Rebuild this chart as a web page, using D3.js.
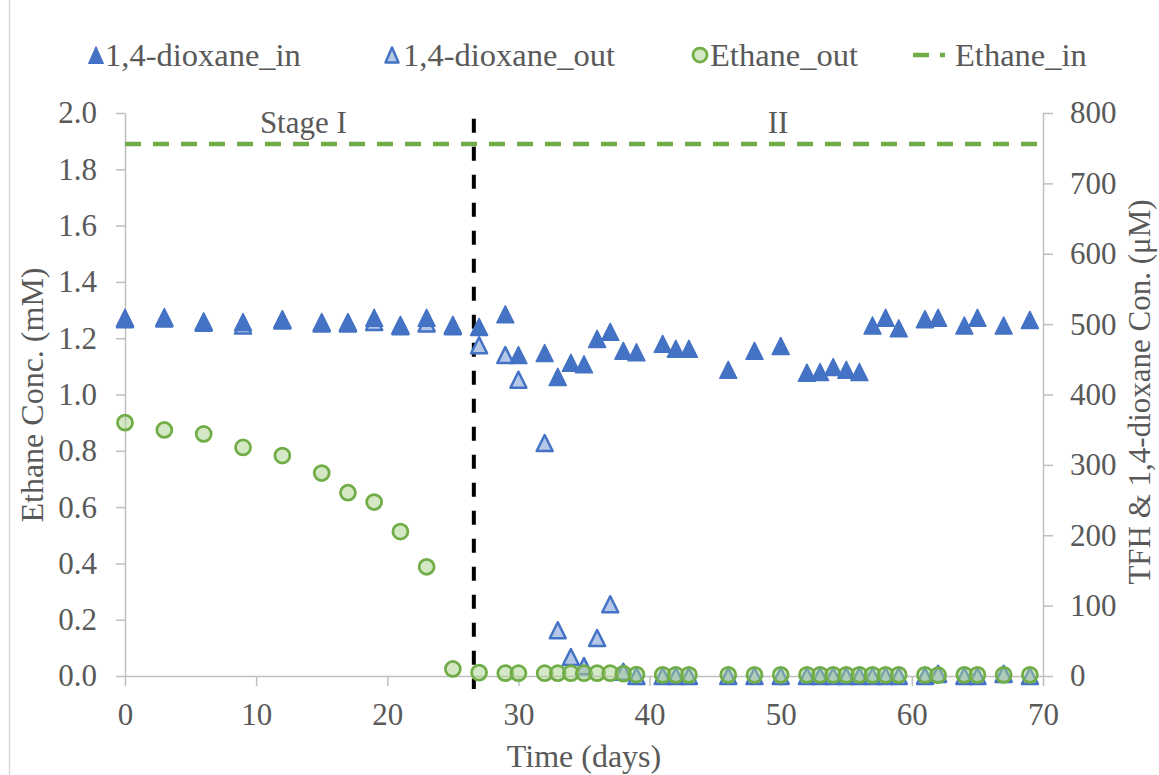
<!DOCTYPE html>
<html>
<head>
<meta charset="utf-8">
<script src="https://cdn.jsdelivr.net/npm/d3@7"></script>
<style>
  body { margin: 0; background: #fff; }
  svg { display: block; }
</style>
</head>
<body>
<div id="chart"></div>
<script>
// time points (days)
const days = [0, 3, 6, 9, 12, 15, 17, 19, 21, 23, 25, 27, 29, 30, 32, 33, 34, 35, 36, 37, 38, 39,
  41, 42, 43, 46, 48, 50, 52, 53, 54, 55, 56, 57, 58, 59, 61, 62, 64, 65, 67, 69];
// 1,4-dioxane influent (uM, right axis)
const dioxaneIn = [509, 510, 504, 503, 507, 503, 503, 509, 499, 509, 499, 496, 514, 456, 459, 425, 445, 443, 479, 489, 462, 460,
  472, 465, 465, 435, 462, 469, 431, 432, 439, 435, 432, 498, 509, 494, 507, 509, 498, 509, 498, 506];
// 1,4-dioxane effluent (uM, right axis)
const dioxaneOut = [507, 508, 502, 498, 505, 501, 501, 503, 497, 501, 497, 470, 456, 421, 331, 65, 27, 14, 54, 102, 6, 0,
  0, 0, 0, 0, 0, 0, 0, 0, 0, 0, 0, 0, 0, 0, 0, 3, 0, 0, 3, 0];
// ethane effluent (mM, left axis)
const ethaneOut = [0.90, 0.874, 0.86, 0.812, 0.783, 0.721, 0.651, 0.618, 0.513, 0.388, 0.025, 0.012, 0.01, 0.01, 0.01, 0.01, 0.01, 0.01, 0.01, 0.01, 0.008, 0.005,
  0.004, 0.004, 0.004, 0.004, 0.004, 0.004, 0.004, 0.004, 0.004, 0.004, 0.004, 0.004, 0.004, 0.004, 0.004, 0.003, 0.004, 0.004, 0.004, 0.004];
const ethaneIn = 1.89;        // mM, constant feed
const stageBoundary = 26.6;   // day
const stages = [{ label: "Stage I", day: 13.6 }, { label: "II", day: 49.8 }];

const xTicks = [0, 10, 20, 30, 40, 50, 60, 70];
const leftTicks = [0, 0.2, 0.4, 0.6, 0.8, 1.0, 1.2, 1.4, 1.6, 1.8, 2.0];
const rightTicks = [0, 100, 200, 300, 400, 500, 600, 700, 800];

const W = 1159, H = 775;
const m = { left: 125, right: 116, top: 113, bottom: 99 };
const blue = "#4472C4", lightBlue = "#B4C7E7", green = "#70AD47", textCol = "#595959", axisCol = "#BFBFBF";
const FONT = '"Liberation Serif", "Times New Roman", serif';

const svg = d3.select("#chart").append("svg").attr("width", W).attr("height", H);

const x = d3.scaleLinear().domain([0, 70]).range([m.left, W - m.right]);
const yL = d3.scaleLinear().domain([0, 2]).range([H - m.bottom, m.top]);
const yR = d3.scaleLinear().domain([0, 800]).range([H - m.bottom, m.top]);

function label(sel, size) {
  return sel.attr("fill", textCol).style("font-family", FONT).style("font-size", (size || 31) + "px");
}

// chart frame edge
svg.append("line").attr("x1", 9.5).attr("x2", 9.5).attr("y1", 0).attr("y2", H).attr("stroke", "#D9D9D9").attr("stroke-width", 1.5);

function styleAxis(g) {
  g.attr("font-family", null).attr("font-size", null);
  g.select(".domain").attr("stroke", axisCol).attr("stroke-width", 1.5);
  g.selectAll(".tick line").attr("stroke", axisCol).attr("stroke-width", 1.5);
  g.selectAll(".tick text").call(label, 31);
}

svg.append("g").attr("transform", `translate(0,${H - m.bottom})`)
  .call(d3.axisBottom(x).tickValues(xTicks).tickSize(10).tickSizeOuter(0).tickPadding(17))
  .call(styleAxis);
svg.append("g").attr("transform", `translate(${m.left},0)`)
  .call(d3.axisLeft(yL).tickValues(leftTicks).tickFormat(d3.format(".1f")).tickSize(9).tickSizeOuter(0).tickPadding(19))
  .call(styleAxis);
svg.append("g").attr("transform", `translate(${W - m.right},0)`)
  .call(d3.axisRight(yR).tickValues(rightTicks).tickSize(10).tickSizeOuter(0).tickPadding(17))
  .call(styleAxis);

// axis titles
svg.append("text").attr("x", (m.left + W - m.right) / 2).attr("y", 767).attr("text-anchor", "middle")
  .call(label, 32).text("Time (days)");
svg.append("text").attr("transform", `translate(43,395) rotate(-90)`).attr("text-anchor", "middle")
  .call(label, 32).text("Ethane Conc. (mM)");
svg.append("text").attr("transform", `translate(1150,392) rotate(-90)`).attr("text-anchor", "middle")
  .call(label, 31).text("TFH & 1,4-dioxane Con. (\u03bcM)");

// ethane influent dashed line
svg.append("line").attr("x1", x(0)).attr("x2", x(70) - 6).attr("y1", yL(ethaneIn)).attr("y2", yL(ethaneIn))
  .attr("stroke", green).attr("stroke-width", 4.5).attr("stroke-dasharray", "16,12");

// stage boundary
svg.append("line").attr("x1", x(stageBoundary)).attr("x2", x(stageBoundary))
  .attr("y1", yL(1.98)).attr("y2", yL(0) + 13)
  .attr("stroke", "#000").attr("stroke-width", 4).attr("stroke-dasharray", "14,14");

svg.selectAll("text.stage").data(stages).join("text").attr("class", "stage")
  .attr("x", d => x(d.day)).attr("y", yL(1.93)).attr("text-anchor", "middle")
  .call(label, 31).text(d => d.label);

const triW = 18, triH = 18;
const tri = (w, h) => `M0,${-h / 2}L${w / 2},${h / 2}L${-w / 2},${h / 2}Z`;

const rows = days.map((d, i) => ({ day: d, dIn: dioxaneIn[i], dOut: dioxaneOut[i], eOut: ethaneOut[i] }));

// dioxane out (behind)
svg.append("g").selectAll("path").data(rows).join("path")
  .attr("d", tri(triW - 2, triH - 2))
  .attr("transform", d => `translate(${x(d.day)},${yR(d.dOut)})`)
  .attr("fill", lightBlue).attr("stroke", blue).attr("stroke-width", 2.5).attr("stroke-linejoin", "round");

// dioxane in
svg.append("g").selectAll("path").data(rows).join("path")
  .attr("d", tri(triW - 1, triH - 1))
  .attr("transform", d => `translate(${x(d.day)},${yR(d.dIn)})`)
  .attr("fill", blue).attr("stroke", blue).attr("stroke-width", 1.5).attr("stroke-linejoin", "round");

// ethane out
svg.append("g").selectAll("circle").data(rows).join("circle")
  .attr("cx", d => x(d.day)).attr("cy", d => yL(d.eOut))
  .attr("r", 7.5).attr("fill", "#A9D18E").attr("fill-opacity", 0.5)
  .attr("stroke", green).attr("stroke-width", 2.75);

// legend
const ly = 55, lfs = 32.5;
const leg = svg.append("g");
leg.append("path").attr("d", tri(15, 17)).attr("transform", `translate(96,${ly})`).attr("fill", blue).attr("stroke", blue).attr("stroke-width", 1);
leg.append("text").attr("x", 105).attr("y", ly).attr("dy", "0.35em").call(label, lfs).text("1,4-dioxane_in");
leg.append("path").attr("d", tri(13, 15)).attr("transform", `translate(392,${ly})`).attr("fill", lightBlue).attr("stroke", blue).attr("stroke-width", 2.5).attr("stroke-linejoin", "round");
leg.append("text").attr("x", 403).attr("y", ly).attr("dy", "0.35em").call(label, lfs).text("1,4-dioxane_out");
leg.append("circle").attr("cx", 700).attr("cy", ly).attr("r", 7).attr("fill", "#A9D18E").attr("fill-opacity", 0.5).attr("stroke", green).attr("stroke-width", 2.75);
leg.append("text").attr("x", 710).attr("y", ly).attr("dy", "0.35em").call(label, lfs).text("Ethane_out");
leg.append("line").attr("x1", 913).attr("x2", 945).attr("y1", ly).attr("y2", ly).attr("stroke", green).attr("stroke-width", 4.5).attr("stroke-dasharray", "16,11");
leg.append("text").attr("x", 955).attr("y", ly).attr("dy", "0.35em").call(label, lfs).text("Ethane_in");
</script>
</body>
</html>
